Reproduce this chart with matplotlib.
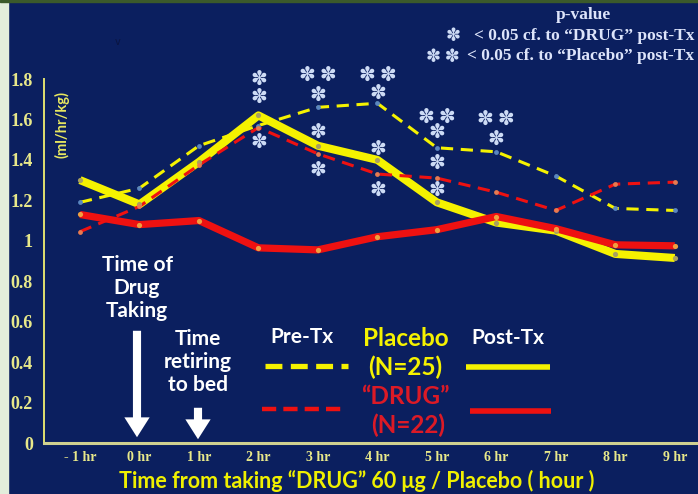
import matplotlib
matplotlib.use("Agg")
import matplotlib.pyplot as plt
from matplotlib.lines import Line2D
from matplotlib.patches import Rectangle, FancyArrowPatch

# hours after taking drug / placebo
hours = [-1, 0, 1, 2, 3, 4, 5, 6, 7, 8, 9]
hour_labels = ["- 1 hr", "0 hr", "1 hr", "2 hr", "3 hr", "4 hr", "5 hr", "6 hr", "7 hr", "8 hr", "9 hr"]
y_ticks = [0, 0.2, 0.4, 0.6, 0.8, 1.0, 1.2, 1.4, 1.6, 1.8]
y_tick_labels = ["0", "0.2", "0.4", "0.6", "0.8", "1", "1.2", "1.4", "1.6", "1.8"]

# urine output (ml/hr/kg)
placebo_pre = [1.19, 1.26, 1.47, 1.57, 1.66, 1.68, 1.46, 1.44, 1.32, 1.16, 1.15]
placebo_post = [1.30, 1.18, 1.39, 1.62, 1.47, 1.40, 1.19, 1.09, 1.05, 0.935, 0.915]
drug_pre = [1.045, 1.17, 1.375, 1.56, 1.43, 1.33, 1.31, 1.24, 1.15, 1.28, 1.29]
drug_post = [1.13, 1.08, 1.10, 0.965, 0.955, 1.02, 1.055, 1.12, 1.06, 0.98, 0.975]

# significance marks
star_hours = [2, 2, 2, 3, 3, 3, 3, 4, 4, 4, 4, 5, 5, 5, 5, 6, 6]
star_levels = [1.80, 1.71, 1.485, 1.82, 1.72, 1.535, 1.35, 1.82, 1.73, 1.45, 1.25,
               1.61, 1.535, 1.385, 1.25, 1.60, 1.50]
star_marks = ["*", "*", "*", "**", "*", "*", "*", "**", "*", "*", "*",
              "**", "*", "*", "*", "**", "*"]

NAVY = "#0b1f5f"
YEL = "#f5f200"
RED = "#ee1111"
DRUGRED = "#dc1a26"
TICK = "#e8e88a"
STAR = "#cddbf5"
W, H = 698, 494


def fp(x, y):
    """pixel position -> figure fraction"""
    return x / W, 1 - y / H


fig = plt.figure(figsize=(6.98, 4.94), dpi=100)
fig.patch.set_facecolor(NAVY)
fig.patches.append(Rectangle((0, 0), 8 / W, 1, transform=fig.transFigure, color="#e2eddb", zorder=0))
fig.patches.append(Rectangle((0, 1 - 2 / H), 1, 2 / H, transform=fig.transFigure, color="#3b5a2b", zorder=0))

x0, y0 = fp(44, 443)
x1, y1 = fp(698, 79)
ax = fig.add_axes([x0, y0, x1 - x0, y1 - y0])
ax.set_facecolor(NAVY)
ax.set_xlim(-1.605, 9.39)
ax.set_ylim(0, 1.8)

ax.plot(hours, placebo_post, color=YEL, lw=5.8, solid_capstyle="butt", zorder=3)
ax.plot(hours, drug_post, color=RED, lw=5.2, solid_capstyle="butt", zorder=3)
ax.plot(hours, placebo_pre, color=YEL, lw=2.2, dashes=(4, 2.5), zorder=4)
ax.plot(hours, drug_pre, color=RED, lw=2.2, dashes=(4, 2.5), zorder=4)
ax.scatter(hours, placebo_post, s=14, color="#a8a060", zorder=5, lw=0)
ax.scatter(hours, drug_post, s=14, color="#f0a040", zorder=5, lw=0)
ax.scatter(hours, placebo_pre, s=12, color="#5a86c0", zorder=5, lw=0)
ax.scatter(hours, drug_pre, s=12, color="#e87a50", zorder=5, lw=0)

for h, lv, m in zip(star_hours, star_levels, star_marks):
    ax.text(h, lv, "\u2009".join("\u273d" * len(m)), color=STAR, fontsize=14.5, ha="center",
            va="center", family="DejaVu Sans", clip_on=False, zorder=6)

for s in ["top", "right"]:
    ax.spines[s].set_visible(False)
ax.spines["left"].set_color("#e0e070")
ax.spines["left"].set_linewidth(1.4)
ax.spines["bottom"].set_color("#d0d090")
ax.spines["bottom"].set_linewidth(2.2)

ax.set_xticks(hours)
ax.set_xticklabels(hour_labels)
ax.set_yticks(y_ticks)
ax.set_yticklabels(y_tick_labels)
ax.tick_params(length=0)
for lab in ax.get_yticklabels():
    lab.set(color=TICK, family="Liberation Serif", fontweight="bold", fontsize=13)
ax.tick_params(axis="y", pad=8)
for lab in ax.get_xticklabels():
    lab.set(color=TICK, family="Liberation Serif", fontweight="bold", fontsize=10)
ax.tick_params(axis="x", pad=6)

fig.text(*fp(62, 125), "(ml/hr/kg)", color="#e8e860", rotation=90, ha="center", va="center",
         fontsize=10.5, fontweight="bold", family="Lato")
fig.text(*fp(357, 481), "Time from taking \u201cDRUG\u201d 60 \u03bcg / Placebo ( hour )", color="#f0f000",
         ha="center", va="center", fontsize=15.5, fontweight="bold", family="Lato")

# p-value key
pv = dict(color="#dde4fa", fontweight="bold", family="Liberation Serif", fontsize=12.5)
fig.text(*fp(583, 15), "p-value", ha="center", va="center", **pv)
fig.text(*fp(694, 36), "< 0.05 cf. to \u201cDRUG\u201d post-Tx", ha="right", va="center", **pv)
fig.text(*fp(694, 56), "< 0.05 cf. to \u201cPlacebo\u201d post-Tx", ha="right", va="center", **pv)
fig.text(*fp(453, 36), "\u273d", ha="center", va="center", color=STAR, fontsize=13,
         family="DejaVu Sans")
fig.text(*fp(443, 57), "\u273d\u2009\u273d", ha="center", va="center", color=STAR, fontsize=13,
         family="DejaVu Sans")
fig.text(*fp(118, 42), "v", ha="center", va="center", color="#0a1440", fontsize=7)

# annotations
wt = dict(color="white", fontweight="bold", family="Lato", fontsize=15, ha="center", va="center",
          linespacing=1.2)
fig.text(*fp(137, 288), "Time of\nDrug\nTaking", **wt)
fig.text(*fp(198, 362), "Time\nretiring\nto bed", **wt)
for xa, ya, yb in [(137, 328, 440), (198, 405, 442)]:
    fig.patches.append(FancyArrowPatch(fp(xa, ya), fp(xa, yb), transform=fig.transFigure,
                                       arrowstyle="simple,head_length=1.1,head_width=1.4,tail_width=0.45",
                                       mutation_scale=13, color="white", lw=0, zorder=10))

# legend
fig.text(*fp(302, 337), "Pre-Tx", **wt)
fig.text(*fp(508, 338), "Post-Tx", **wt)
lt = dict(fontweight="bold", family="Lato", fontsize=17.5, ha="center", va="center")
fig.text(*fp(406, 338), "Placebo", color=YEL, **lt)
fig.text(*fp(405, 367), "(N=25)", color=YEL, **lt)
fig.text(*fp(405, 396), "\u201cDRUG\u201d", color=DRUGRED, **lt)
fig.text(*fp(408, 425), "(N=22)", color=DRUGRED, **lt)
legend_lines = [
    ((265, 348), 366, YEL, 3.8, (3.2, 1.6)),
    ((262, 343), 409, RED, 3.2, (3.2, 1.6)),
    ((466, 550), 367, YEL, 4.0, None),
    ((470, 551), 411, RED, 4.0, None),
]
for (xa, xb), yy, c, lw, ds in legend_lines:
    p0, p1 = fp(xa, yy), fp(xb, yy)
    ln = Line2D([p0[0], p1[0]], [p0[1], p1[1]], transform=fig.transFigure, color=c, lw=lw,
                solid_capstyle="butt", dash_capstyle="butt")
    if ds:
        ln.set_dashes(ds)
    fig.add_artist(ln)

fig.savefig("out.png", dpi=100, facecolor=NAVY)
